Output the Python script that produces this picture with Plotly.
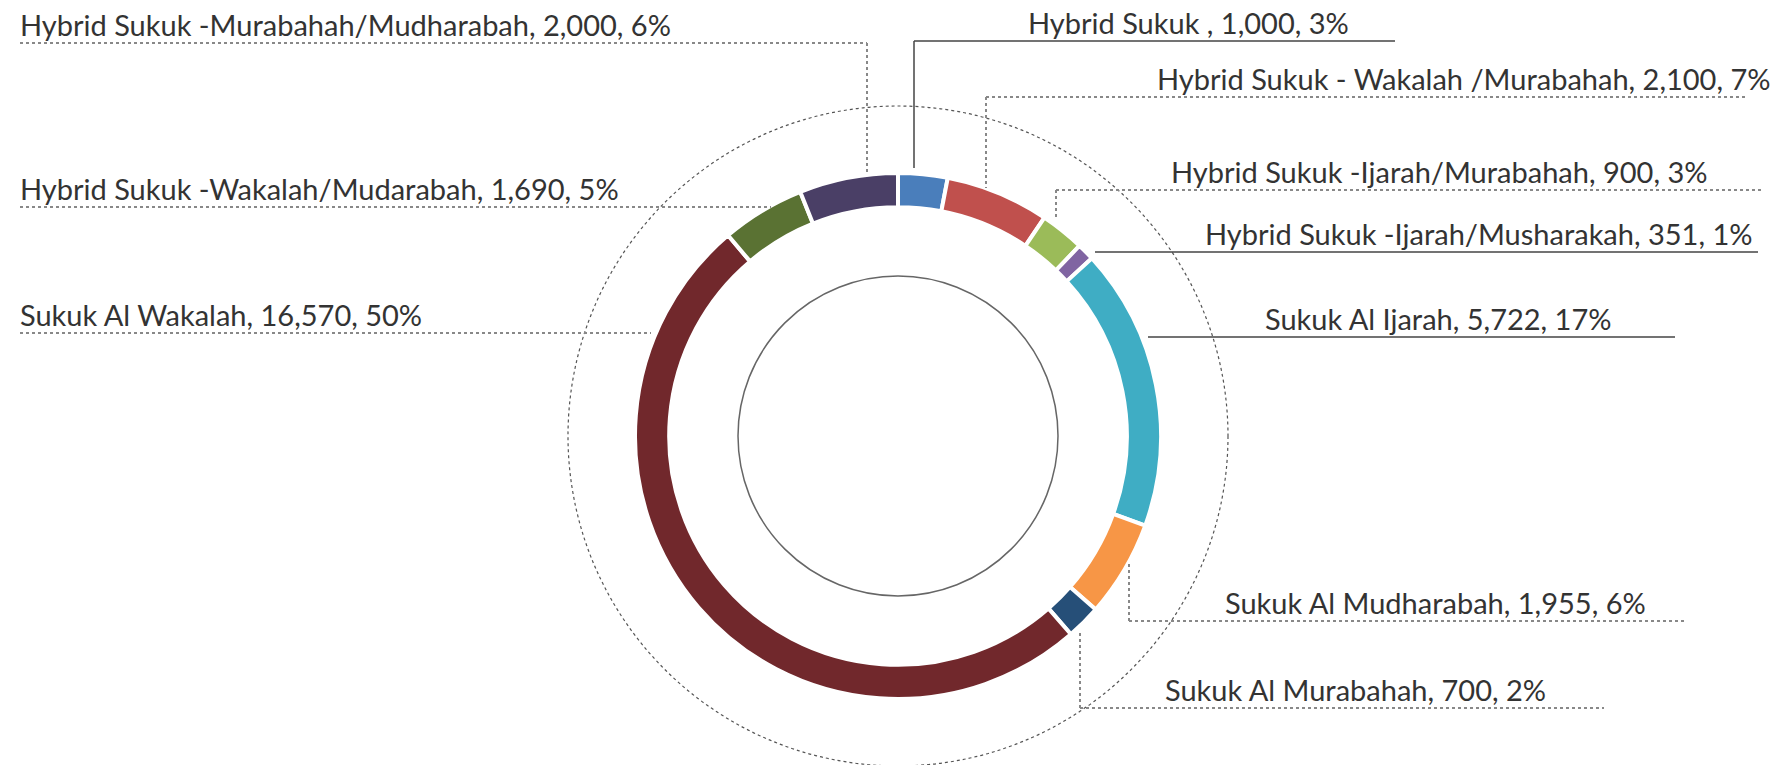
import plotly.graph_objects as go

# Sukuk issuance by structure (clockwise from 12 o'clock)
names = [
    "Hybrid Sukuk ",
    "Hybrid Sukuk - Wakalah /Murabahah",
    "Hybrid Sukuk -Ijarah/Murabahah",
    "Hybrid Sukuk -Ijarah/Musharakah",
    "Sukuk Al Ijarah",
    "Sukuk Al Mudharabah",
    "Sukuk Al Murabahah",
    "Sukuk Al Wakalah",
    "Hybrid Sukuk -Wakalah/Mudarabah",
    "Hybrid Sukuk -Murabahah/Mudharabah",
]
values = [1000, 2100, 900, 351, 5722, 1955, 700, 16570, 1690, 2000]
percents = [3, 7, 3, 1, 17, 6, 2, 50, 5, 6]
colors = ["#4a7ebb", "#c0504d", "#9bbb59", "#8064a2", "#3fadc4",
          "#f79646", "#264f78", "#71282c", "#5a7233", "#4a3f66"]

W, H = 1777, 765
cx, cy, r_out = 898, 436, 263

# label placement: text x, underline y, underline x0/x1, leader end y (None = no vertical), style
label_pos = [
    (1026, 41, 914, 1395, 168, "solid"),
    (1155, 97, 986, 1747, 188, "dot"),
    (1169, 190, 1056, 1764, 220, "dot"),
    (1203, 252, 1095, 1758, None, "solid"),
    (1263, 337, 1148, 1675, None, "solid"),
    (1223, 621, 1129, 1687, 564, "dot"),
    (1163, 708, 1080, 1604, 632, "dot"),
    (18, 333, 20, 651, None, "dot"),
    (18, 207, 20, 771, None, "dot"),
    (18, 43, 20, 867, 172, "dot"),
]

fig = go.Figure()
fig.add_trace(go.Pie(
    labels=names, values=values, sort=False, direction="clockwise", rotation=0,
    hole=0.87, textinfo="none", hoverinfo="label+value+percent",
    marker=dict(colors=colors, line=dict(color="white", width=4)),
    domain=dict(x=[(cx - r_out) / W, (cx + r_out) / W],
                y=[(H - cy - r_out) / H, (H - cy + r_out) / H]),
    showlegend=False,
))
# invisible point so the pixel-based x/y axes exist for shapes and annotations
fig.add_trace(go.Scatter(x=[cx], y=[cy], mode="markers", marker=dict(opacity=0),
                         hoverinfo="skip", showlegend=False))

shapes = [
    dict(type="circle", xref="x", yref="y", x0=cx - 330, x1=cx + 330, y0=cy - 330, y1=cy + 330,
         line=dict(color="#555", width=1.2, dash="dot"), layer="below"),
    dict(type="circle", xref="x", yref="y", x0=cx - 160, x1=cx + 160, y0=cy - 160, y1=cy + 160,
         line=dict(color="#666", width=1.5), layer="below"),
]
annotations = []
for name, val, pct, (tx, uy, x0, x1, ly, style) in zip(names, values, percents, label_pos):
    if style == "solid":
        ln = dict(color="#444", width=1.5)
    else:
        ln = dict(color="#888", width=2, dash="dot")
    x_corner = x1 if tx < cx else x0
    shapes.append(dict(type="line", xref="x", yref="y", x0=x0, x1=x1, y0=uy, y1=uy, line=ln))
    if ly is not None:
        shapes.append(dict(type="line", xref="x", yref="y",
                           x0=x_corner, x1=x_corner, y0=uy, y1=ly, line=ln))
    annotations.append(dict(
        xref="x", yref="y", x=tx, y=uy - 19, text=f"{name}, {val:,}, {pct}%", showarrow=False,
        xanchor="left", yanchor="middle",
        font=dict(family="Lato", size=29, color="#333"),
    ))

fig.update_layout(
    width=W, height=H, margin=dict(l=0, r=0, t=0, b=0),
    paper_bgcolor="white", plot_bgcolor="white",
    xaxis=dict(range=[0, W], visible=False, fixedrange=True),
    yaxis=dict(range=[H, 0], visible=False, fixedrange=True),
    shapes=shapes, annotations=annotations,
)

fig.write_html("out.html", config={"displayModeBar": False},
               post_script="document.body.style.margin='0';")
